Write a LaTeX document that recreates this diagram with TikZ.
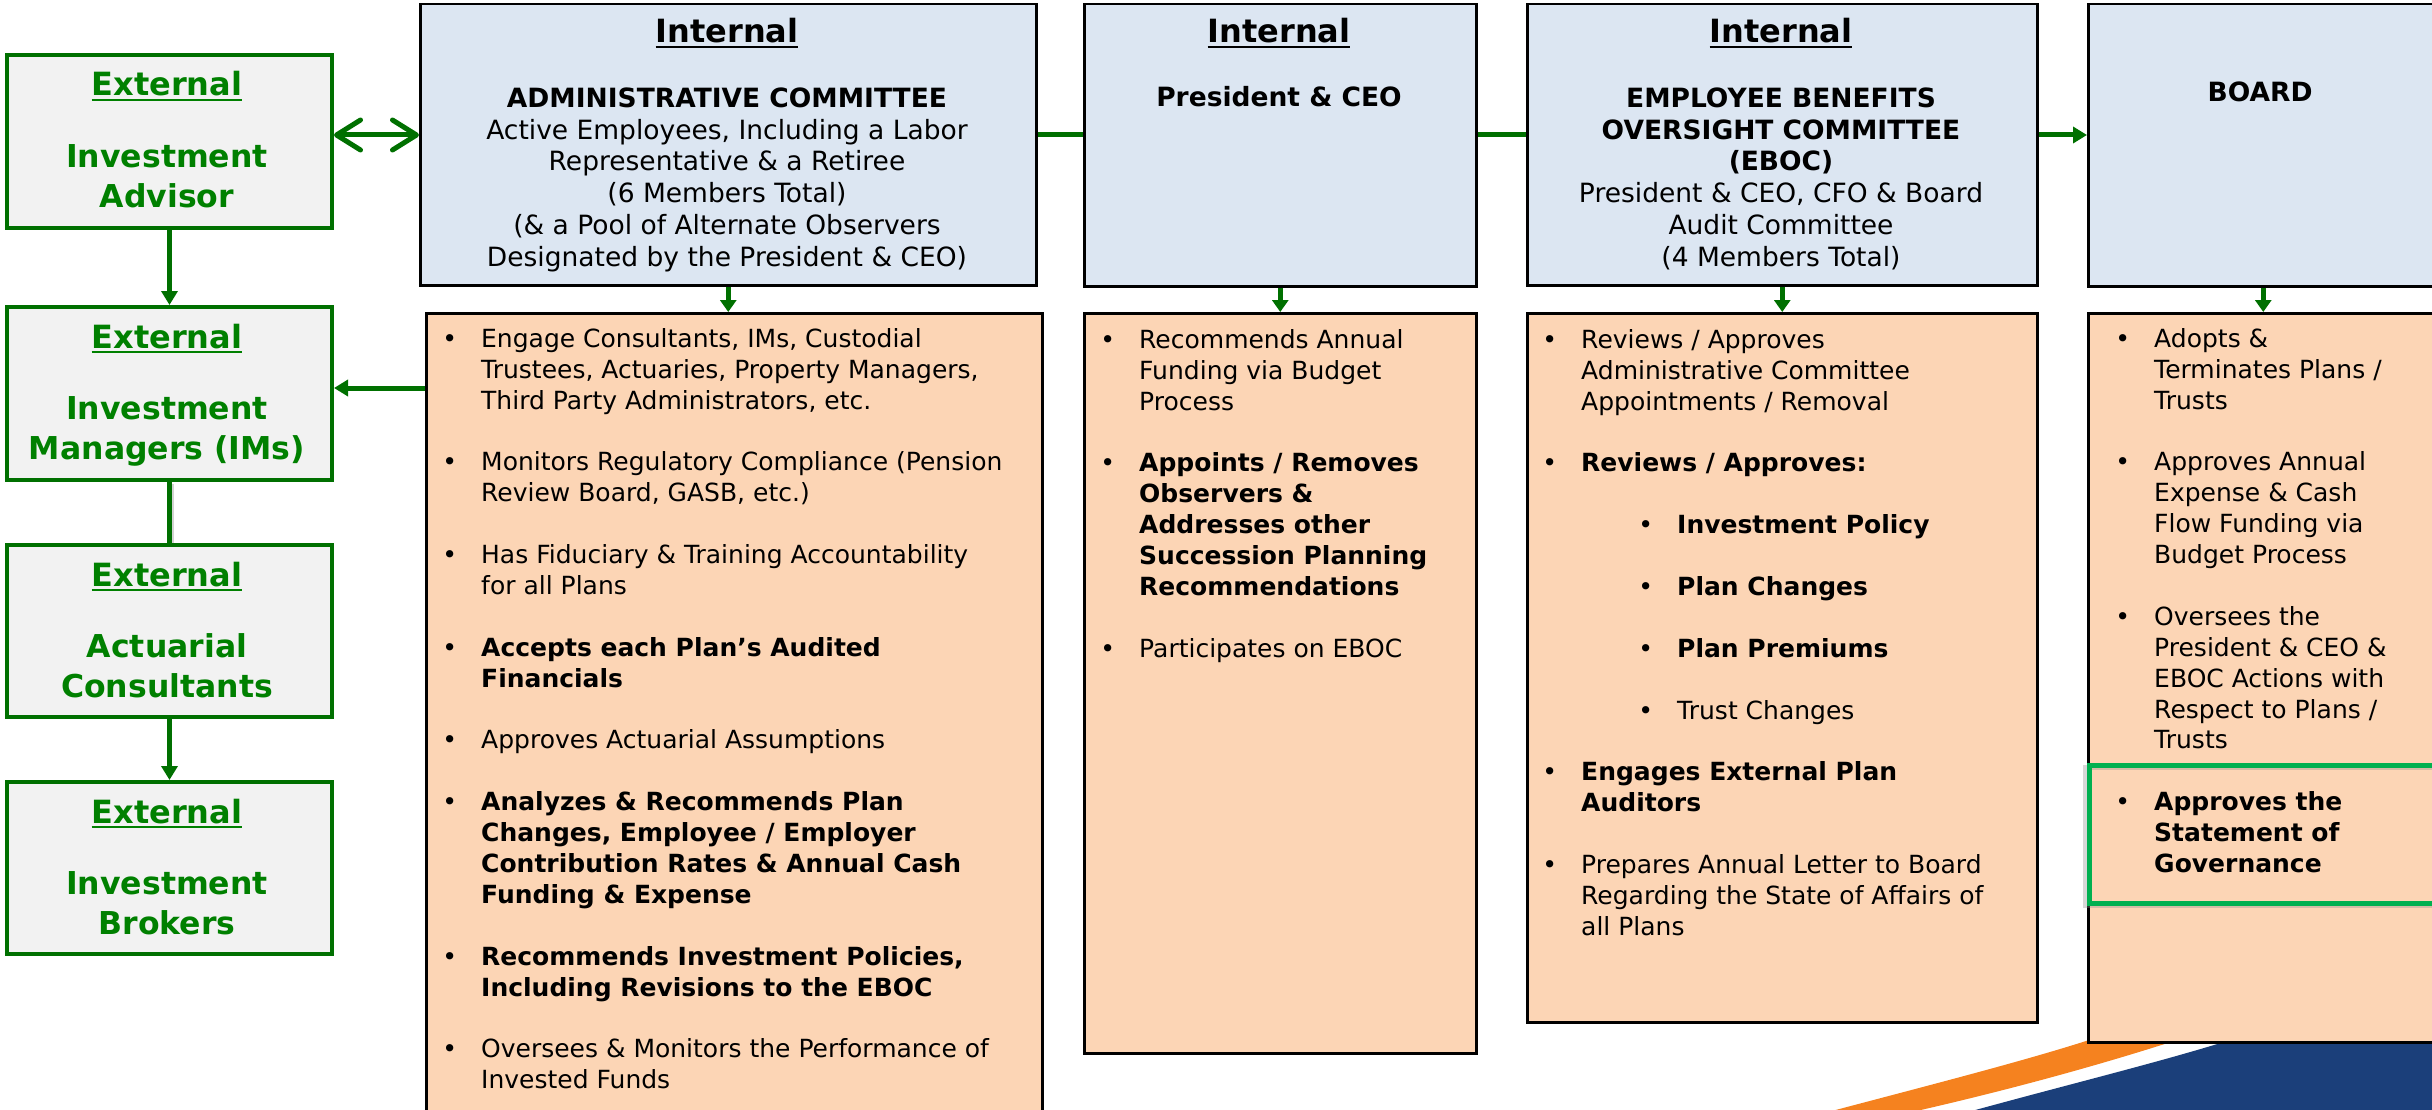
\documentclass[tikz,border=0pt]{standalone}
\usepackage{fontspec}
\setmainfont{DejaVu Sans}
\usetikzlibrary{arrows.meta}
\definecolor{extgreen}{RGB}{0,128,0}
\definecolor{argreen}{RGB}{0,112,0}
\definecolor{hlgreen}{RGB}{0,176,80}
\definecolor{boxblue}{RGB}{220,230,242}
\definecolor{boxorange}{RGB}{252,213,181}
\definecolor{extgray}{RGB}{242,242,242}
\definecolor{swblue}{RGB}{27,63,122}
\definecolor{sworange}{RGB}{245,130,31}
\newcommand\ulx[1]{\vtop{\hbox{#1}\kern2.5pt\hrule height 2.5pt}}
\newcommand\bu{\leavevmode\llap{\textbullet\hspace{24pt}}}
\newcommand\fs[1]{\rule{0pt}{#1}}
\begin{document}
\begin{tikzpicture}[x=1pt,y=-1pt,
  extbox/.style={draw=argreen, line width=4pt, fill=extgray, anchor=north west, minimum width=325pt, minimum height=173pt, inner sep=0pt},
  bluebox/.style={draw=black, line width=2.5pt, fill=boxblue, anchor=north west, inner sep=0pt},
  orbox/.style={draw=black, line width=2.5pt, fill=boxorange, anchor=north west, inner sep=0pt},
  exthead/.style={anchor=base, inner sep=0pt, text=extgreen, font=\fontsize{32}{38}\selectfont\bfseries},
  extname/.style={anchor=north, inner sep=0pt, align=center, text=extgreen, font=\fontsize{31.5}{40}\selectfont\bfseries},
  inthead/.style={anchor=base, inner sep=0pt, font=\fontsize{32}{38}\selectfont\bfseries},
  hdrtext/.style={anchor=north, inner sep=0pt, align=center, font=\fontsize{26.5}{31.8}\selectfont},
  hdrbold/.style={anchor=base, inner sep=0pt, font=\fontsize{26.5}{31.8}\selectfont\bfseries},
  bultext/.style={anchor=north west, inner sep=0pt, align=left, font=\fontsize{25}{30.9}\selectfont},
  gline/.style={draw=argreen, line width=5pt},
  garrow/.style={draw=argreen, line width=5pt, -{Triangle[length=14pt,width=16pt]}},
  darrow/.style={draw=argreen, line width=4.5pt, -{Triangle[length=12pt,width=16pt]}},
  dblarrow/.style={draw=argreen, line width=5pt, {Straight Barb[length=24pt,width=30pt,round]}-{Straight Barb[length=24pt,width=30pt,round]}}
]
\useasboundingbox (0,0) rectangle (2432,1110);
\clip (0,0) rectangle (2432,1110);

% swoosh
\fill[sworange] (1828,1112) .. controls (1930,1085) and (2020,1062) .. (2086,1041) -- (2130,1025) -- (2190,1025) -- (2174,1041) .. controls (2090,1068) and (2000,1092) .. (1912,1112) -- cycle;
\fill[swblue] (1968,1112) .. controls (2070,1084) and (2160,1062) .. (2227,1041) -- (2260,1025) -- (2440,1025) -- (2440,1112) -- cycle;

% external boxes
\node[extbox] (ia) at (5,53) {};
\node[extbox] (im) at (5,305) {};
\node[extbox, minimum height=172pt] (ac) at (5,543) {};
\node[extbox, minimum height=172pt] (ib) at (5,780) {};

% internal boxes
\node[bluebox, minimum width=616pt, minimum height=281pt] (adm) at (419,3) {};
\node[bluebox, minimum width=392pt, minimum height=282pt] (pres) at (1083,3) {};
\node[bluebox, minimum width=510pt, minimum height=281pt] (eboc) at (1526,3) {};
\node[bluebox, minimum width=350pt, minimum height=282pt] (board) at (2087,3) {};

\node[orbox, minimum width=616pt, minimum height=830pt] (admO) at (425,312) {};
\node[orbox, minimum width=392pt, minimum height=740pt] (presO) at (1083,312) {};
\node[orbox, minimum width=510pt, minimum height=709pt] (ebocO) at (1526,312) {};
\node[orbox, minimum width=350pt, minimum height=729pt] (boardO) at (2087,312) {};

% highlight
\draw[black!45, line width=5pt, opacity=0.35] (2085,767) rectangle (2440,905);
\node[draw=hlgreen, line width=5pt, anchor=north west, minimum width=350pt, minimum height=138pt, inner sep=0pt] (gov) at (2087,763) {};

% connectors
\coordinate (hy) at (0,135);
\coordinate (ly) at (0,388);
\draw[gline] (adm.east|-hy) -- (pres.west|-hy);
\draw[gline] (pres.east|-hy) -- (eboc.west|-hy);
\draw[garrow] (eboc.east|-hy) -- (board.west|-hy);
\draw[dblarrow] (ia.east|-hy) -- (adm.west|-hy);
\draw[darrow] (adm.south) -- (adm.south|-admO.north);
\draw[darrow] (pres.south) -- (pres.south|-presO.north);
\draw[darrow] (eboc.south) -- (eboc.south|-ebocO.north);
\draw[darrow] (board.south) -- (board.south|-boardO.north);
\draw[garrow] (admO.west|-ly) -- (im.east|-ly);
\draw[garrow] (ia.south) -- (im.north);
\draw[black!50, line width=5pt, opacity=0.35] ([xshift=2pt,yshift=-2pt]im.south) -- ([xshift=2pt]ac.north);
\draw[gline] (im.south) -- (ac.north);
\draw[garrow] (ac.south) -- (ib.north);

% external texts
\node[exthead] (iaT) at (167,96) {\ulx{External}};
\node[extname] (iaN) at (167,142) {\fs{25pt}Investment\\Advisor};
\node[exthead] (imT) at (167,348) {\ulx{External}};
\node[extname] (imN) at (167,394) {\fs{25pt}Investment\\Managers (IMs)};
\node[exthead] (acT) at (167,586) {\ulx{External}};
\node[extname] (acN) at (167,632) {\fs{25pt}Actuarial\\Consultants};
\node[exthead] (ibT) at (167,823) {\ulx{External}};
\node[extname] (ibN) at (167,869) {\fs{25pt}Investment\\Brokers};

% internal headers
\node[inthead] (admI) at (727,43) {\ulx{Internal}};
\node[hdrtext] (admH) at (727,85.5) {\fs{21.5pt}\textbf{ADMINISTRATIVE COMMITTEE}\\
Active Employees, Including a Labor\\
Representative \& a Retiree\\
(6 Members Total)\\
(\& a Pool of Alternate Observers\\
Designated by the President \& CEO)};
\node[inthead] (presI) at (1279,43) {\ulx{Internal}};
\node[hdrbold] (presH) at (1279,107) {President \& CEO};
\node[inthead] (ebocI) at (1781,43) {\ulx{Internal}};
\node[hdrtext] (ebocH) at (1781,85.5) {\fs{21.5pt}\textbf{EMPLOYEE BENEFITS}\\
\textbf{OVERSIGHT COMMITTEE}\\
\textbf{(EBOC)}\\
President \& CEO, CFO \& Board\\
Audit Committee\\
(4 Members Total)};
\node[hdrbold] (boardH) at (2260,102) {BOARD};

% bullet lists
\node[bultext] (admL) at (481,327) {\bu\fs{20pt}Engage Consultants, IMs, Custodial\\
Trustees, Actuaries, Property Managers,\\
Third Party Administrators, etc.\\[30.9pt]
\bu Monitors Regulatory Compliance (Pension\\
Review Board, GASB, etc.)\\[30.9pt]
\bu Has Fiduciary \& Training Accountability\\
for all Plans\\[30.9pt]
\bu\textbf{Accepts each Plan’s Audited}\\
\textbf{Financials}\\[30.9pt]
\bu Approves Actuarial Assumptions\\[30.9pt]
\bu\textbf{Analyzes \& Recommends Plan}\\
\textbf{Changes, Employee / Employer}\\
\textbf{Contribution Rates \& Annual Cash}\\
\textbf{Funding \& Expense}\\[30.9pt]
\bu\textbf{Recommends Investment Policies,}\\
\textbf{Including Revisions to the EBOC}\\[30.9pt]
\bu Oversees \& Monitors the Performance of\\
Invested Funds};

\node[bultext] (presL) at (1139,328) {\bu\fs{20pt}Recommends Annual\\
Funding via Budget\\
Process\\[30.9pt]
\bu\textbf{Appoints / Removes}\\
\textbf{Observers \&}\\
\textbf{Addresses other}\\
\textbf{Succession Planning}\\
\textbf{Recommendations}\\[30.9pt]
\bu Participates on EBOC};

\node[bultext] (ebocL) at (1581,328) {\bu\fs{20pt}Reviews / Approves\\
Administrative Committee\\
Appointments / Removal\\[30.9pt]
\bu\textbf{Reviews / Approves:}\\[30.9pt]
\hspace*{96pt}\bu\textbf{Investment Policy}\\[30.9pt]
\hspace*{96pt}\bu\textbf{Plan Changes}\\[30.9pt]
\hspace*{96pt}\bu\textbf{Plan Premiums}\\[30.9pt]
\hspace*{96pt}\bu Trust Changes\\[30.9pt]
\bu\textbf{Engages External Plan}\\
\textbf{Auditors}\\[30.9pt]
\bu Prepares Annual Letter to Board\\
Regarding the State of Affairs of\\
all Plans};

\node[bultext] (boardL) at (2154,327) {\bu\fs{20pt}Adopts \&\\
Terminates Plans /\\
Trusts\\[30.9pt]
\bu Approves Annual\\
Expense \& Cash\\
Flow Funding via\\
Budget Process\\[30.9pt]
\bu Oversees the\\
President \& CEO \&\\
EBOC Actions with\\
Respect to Plans /\\
Trusts\\[30.9pt]
\bu\textbf{Approves the}\\
\textbf{Statement of}\\
\textbf{Governance}};
\end{tikzpicture}
\end{document}
